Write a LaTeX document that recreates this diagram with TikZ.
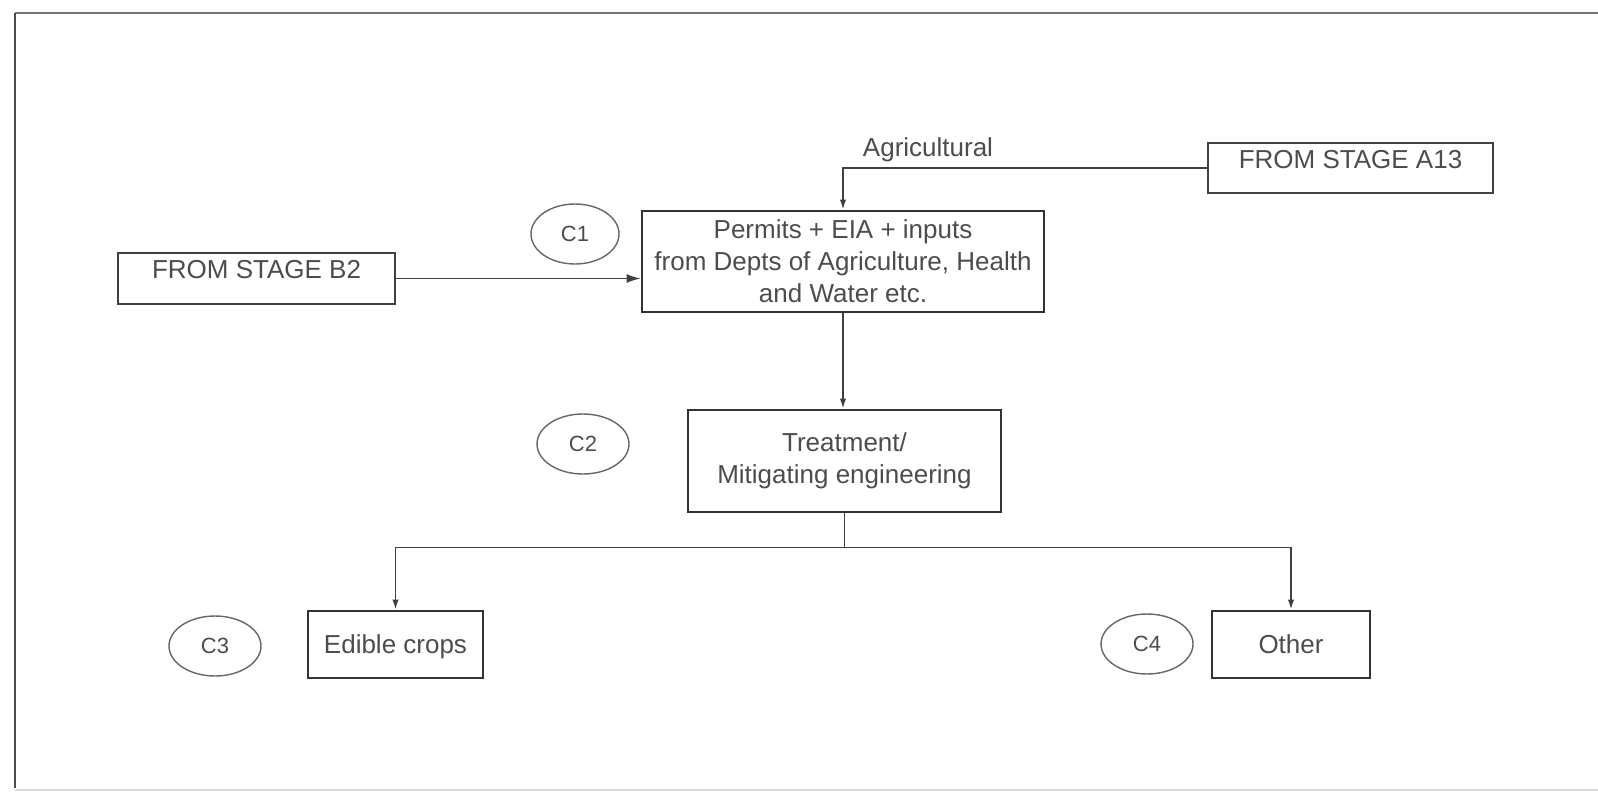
\documentclass[tikz,border=0pt]{standalone}
\usepackage{fontspec}
\setmainfont{Liberation Sans}
\usetikzlibrary{arrows.meta,shapes.geometric,calc}
\begin{document}
\begin{tikzpicture}[x=0.5pt,y=-0.5pt,
  every node/.style={font=\fontsize{13pt}{16pt}\selectfont, text=black!70},
  srcbox/.style={draw=black!75, line width=0.9pt, rectangle, inner xsep=0pt, inner ysep=0pt,
                 text height=9.3pt, text depth=9pt},
  stagebox/.style={draw=black!80, line width=1.4pt, rectangle, align=center, inner sep=0pt},
  onebox/.style={stagebox, text height=9.3pt, text depth=0pt},
  tag/.style={draw=black!60, line width=0.7pt, ellipse, minimum width=46pt, minimum height=30pt,
              inner sep=0pt, font=\fontsize{11pt}{13pt}\selectfont},
  link/.style={draw=black!75, line width=0.8pt},
  tip/.style={-{Latex[length=5pt,width=3.2pt]}},
]
\useasboundingbox (0,0) rectangle (1598,792);

% page frame
\draw[black!55, line width=1.4pt] (15,13) -- (1598,13);
\draw[black!70, line width=0.6pt] (15,13) -- (15,788);
\draw[black!15, line width=0.6pt] (15,790) -- (1598,790);

% incoming stages
\node[srcbox, minimum width=138.5pt, minimum height=25.5pt] (b2) at (256.5,278.5) {FROM STAGE B2};
\node[srcbox, minimum width=142.5pt, minimum height=25pt] (a13) at (1350.5,168) {FROM STAGE A13};

% process steps
\node[stagebox, minimum width=201pt, minimum height=50.5pt] (c1box) at (843,261.5)
  {Permits + EIA + inputs\\from Depts of Agriculture, Health\\and Water etc.};
\node[stagebox, minimum width=156.5pt, minimum height=51pt] (c2box) at (844.5,461)
  {Treatment/\\Mitigating engineering};
\node[onebox, minimum width=87.5pt, minimum height=33.5pt] (edible) at (395.5,644.5) {Edible crops};
\node[onebox, minimum width=79pt, minimum height=33.5pt] (other) at (1291,644.5) {Other};

% step tags
\node[tag, minimum width=44pt] (t1) at (575,234) {C1};
\node[tag] (t2) at (583,444) {C2};
\node[tag] (t3) at (215,646) {C3};
\node[tag] (t4) at (1147,644) {C4};

% label on the agricultural feed
\node[anchor=base] (agri) at (928,156) {Agricultural};

% connectors
\draw[link, -{Latex[length=7pt,width=4.5pt]}] (b2.east) -- (b2.east -| c1box.west);
\draw[link, tip] (a13.west) -- (a13.west -| c1box.north) -- (c1box.north);
\draw[link, tip] (c1box.south) -- (c1box.south |- c2box.north);
\coordinate (split) at ($(c2box.south)+(0,34)$);
\draw[link] (c2box.south) -- (split);
\draw[link, tip] (split) -| (edible.north);
\draw[link, tip] (split) -| (other.north);
\end{tikzpicture}
\end{document}
